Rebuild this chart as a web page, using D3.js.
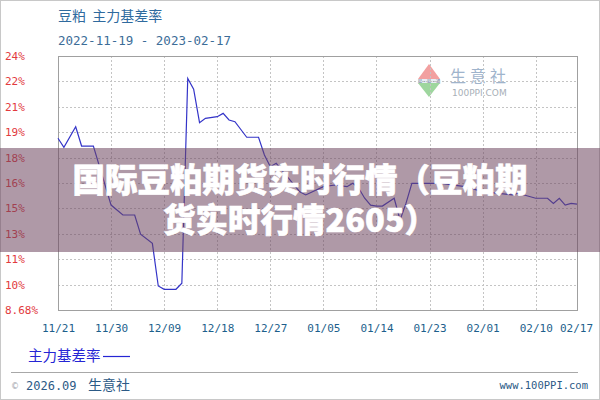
<!DOCTYPE html>
<html><head><meta charset="utf-8">
<script src="https://cdn.jsdelivr.net/npm/d3@7/dist/d3.min.js"></script>
<style>
html,body{margin:0;padding:0;background:#fff;}
svg{display:block;}
</style></head>
<body>
<svg id="c" width="600" height="400"></svg>
<script>
// ---- data ----
const dates = ["2022-11-21","2022-11-22","2022-11-24","2022-11-25","2022-11-27","2022-11-30","2022-12-02","2022-12-04","2022-12-05","2022-12-07","2022-12-08","2022-12-09","2022-12-11","2022-12-12","2022-12-13","2022-12-14","2022-12-15","2022-12-16","2022-12-18","2022-12-19","2022-12-20","2022-12-21","2022-12-23","2022-12-25","2022-12-26","2022-12-27","2022-12-28","2023-01-01","2023-01-02","2023-01-05","2023-01-07","2023-01-09","2023-01-10","2023-01-11","2023-01-12","2023-01-13","2023-01-14","2023-01-15","2023-01-17","2023-01-18","2023-01-19","2023-01-20","2023-01-25","2023-01-29","2023-02-01","2023-02-06","2023-02-07","2023-02-10","2023-02-12","2023-02-13","2023-02-14","2023-02-15","2023-02-16","2023-02-17"];
const values = [19.04,18.49,19.73,18.57,18.57,15.01,14.41,14.41,13.25,12.70,10.13,9.93,9.93,10.30,22.65,22.00,19.98,20.24,20.34,20.54,20.14,20.04,19.10,19.10,18.03,17.32,17.53,15.81,15.62,16.12,16.22,16.12,16.32,16.02,15.42,15.00,14.95,14.95,15.42,14.11,15.11,16.32,16.32,16.12,15.82,15.62,15.72,15.42,15.42,15.11,15.42,15.01,15.11,15.07];
const yDomain = [8.68, 24];
const yTickLabels = ["8.68%","10%","11%","13%","15%","16%","18%","19%","21%","22%","24%"];
const xTickDates = ["2022-11-21","2022-11-30","2022-12-09","2022-12-18","2022-12-27","2023-01-05","2023-01-14","2023-01-23","2023-02-01","2023-02-10","2023-02-17"];
const xTickLabels = ["11/21","11/30","12/09","12/18","12/27","01/05","01/14","01/23","02/01","02/10","02/17"];
const titleText = "豆粕  主力基差率";
const dateRangeText = "2022-11-19 - 2023-02-17";
const seriesName = "主力基差率";
const overlayLines = ["国际豆粕期货实时行情（豆粕期","货实时行情2605）"];

// ---- layout ----
const svg = d3.select("#c");
const L = 58, R = 577, T = 56, B = 310;
const parse = d3.utcParse("%Y-%m-%d");
const x = d3.scaleUtc().domain([parse(xTickDates[0]), parse(xTickDates[xTickDates.length-1])]).range([L, R]);
const y = d3.scaleLinear().domain(yDomain).range([B, T]);
const yTicks = d3.range(yTickLabels.length).map(i => yDomain[0] + i*(yDomain[1]-yDomain[0])/(yTickLabels.length-1));
const mono = "'DejaVu Sans Mono', 'Liberation Mono', monospace";
const cjk = "'Noto Sans CJK SC', 'Noto Sans', sans-serif";

// outer border
svg.append("rect").attr("x",0.5).attr("y",0.5).attr("width",599).attr("height",399)
  .attr("fill","none").attr("stroke","#c8c8c8");

// titles
svg.append("text").attr("x",58).attr("y",21).attr("font-family",cjk).attr("font-size",14)
  .attr("fill","#2f6a9e").attr("xml:space","preserve").text(titleText);
svg.append("text").attr("x",58).attr("y",45).attr("font-family",mono).attr("font-size",12.5)
  .attr("fill","#3c6d98").text(dateRangeText);

// watermark logo
const logo = svg.append("g");
logo.append("path").attr("d","M429,64 L440,79 L418,79 Z").attr("fill","#f2a0a0");
logo.append("rect").attr("x",418).attr("y",79).attr("width",22).attr("height",4).attr("fill","#e8eef4");
logo.append("text").attr("x",429).attr("y",83).attr("text-anchor","middle").attr("font-size",4.5)
  .attr("font-family",cjk).attr("fill","#6a7a99").text("易·易·通");
logo.append("path").attr("d","M418,83 L440,83 L429,97 Z").attr("fill","#9ed69e");
logo.append("text").attr("x",450).attr("y",82).attr("font-family",cjk).attr("font-size",16)
  .attr("letter-spacing",4).attr("fill","#9fb4cc").text("生意社");
logo.append("text").attr("x",452).attr("y",96).attr("font-family","'DejaVu Sans', sans-serif").attr("font-size",9)
  .attr("fill","#a8b0b8").text("100PPI.COM");

// grid
const grid = svg.append("g").attr("stroke","#c4c4c4").attr("stroke-dasharray","2,2").attr("stroke-width",1);
grid.selectAll("line.h").data(yTicks.slice(1,-1)).join("line")
  .attr("x1",L).attr("x2",R).attr("y1",d=>Math.round(y(d))+0.5).attr("y2",d=>Math.round(y(d))+0.5);
grid.selectAll("line.v").data(xTickDates.slice(1,-1)).join("line")
  .attr("y1",T).attr("y2",B).attr("x1",d=>Math.round(x(parse(d)))+0.5).attr("x2",d=>Math.round(x(parse(d)))+0.5);

// frame
svg.append("rect").attr("x",L+0.5).attr("y",T+0.5).attr("width",R-L).attr("height",B-T)
  .attr("fill","none").attr("stroke","#a0a0a0");

// y axis
const yAxis = d3.axisLeft(y).tickValues(yTicks).tickFormat((d,i)=>yTickLabels[i]).tickSize(0);
const gy = svg.append("g").attr("transform",`translate(${L},0)`).call(yAxis);
gy.select(".domain").remove();
gy.selectAll("text").attr("x",5-L).attr("text-anchor","start").attr("font-family",mono)
  .attr("font-size",11).attr("fill","#e23a3e");

// x axis
const xAxis = d3.axisBottom(x).tickValues(xTickDates.map(parse)).tickFormat((d,i)=>xTickLabels[i]).tickSize(0);
const gx = svg.append("g").attr("transform",`translate(0,${B})`).call(xAxis);
gx.select(".domain").remove();
gx.selectAll("text").attr("y",14).attr("font-family",mono).attr("font-size",11).attr("fill","#1d5f8c");
gx.selectAll(".tick").filter((d,i)=>i===xTickDates.length-1).select("text").attr("dx",-1);

// series line
const data = dates.map((d,i)=>({date:parse(d), v:values[i]}));
svg.append("path").datum(data)
  .attr("d", d3.line().x(d=>x(d.date)).y(d=>y(d.v)))
  .attr("fill","none").attr("stroke","#3434c8").attr("stroke-width",1.2);

// legend
svg.append("text").attr("x",28).attr("y",361).attr("font-family",cjk).attr("font-size",14.5)
  .attr("fill","#2525d4").text(seriesName);
svg.append("line").attr("x1",103).attr("x2",130).attr("y1",356.5).attr("y2",356.5)
  .attr("stroke","#2525d4").attr("stroke-width",1.2);

// separator and footer
svg.append("line").attr("x1",11).attr("x2",578).attr("y1",372.5).attr("y2",372.5).attr("stroke","#a8a8a8");
svg.append("text").attr("x",11).attr("y",389).attr("font-family","'DejaVu Sans', sans-serif").attr("font-size",8)
  .attr("fill","#9aa0a8").text("©");
svg.append("text").attr("x",26).attr("y",390).attr("font-family",mono).attr("font-size",12)
  .attr("fill","#2c5a86").text("2026.09");
svg.append("text").attr("x",88).attr("y",390).attr("font-family",cjk).attr("font-size",14)
  .attr("fill","#2c5a86").text("生意社");
svg.append("text").attr("x",588).attr("y",389).attr("text-anchor","end").attr("font-family",mono).attr("font-size",10.5)
  .attr("fill","#2c5a86").text("www.100PPI.com");

// overlay band with headline (one wrapped text, two lines)
svg.append("rect").attr("x",0).attr("y",148).attr("width",600).attr("height",104)
  .attr("fill","rgb(110,70,95)").attr("fill-opacity",0.55);
const head = svg.append("text").attr("text-anchor","middle")
  .attr("font-family",cjk).attr("font-weight",900).attr("font-size",32.5)
  .attr("fill","#ffffff").attr("stroke","#ffffff").attr("stroke-width",0.6);
head.selectAll("tspan").data(overlayLines).join("tspan")
  .attr("x",300).attr("y",(d,i)=>192+i*40).text(d=>d);
</script>
</body></html>
